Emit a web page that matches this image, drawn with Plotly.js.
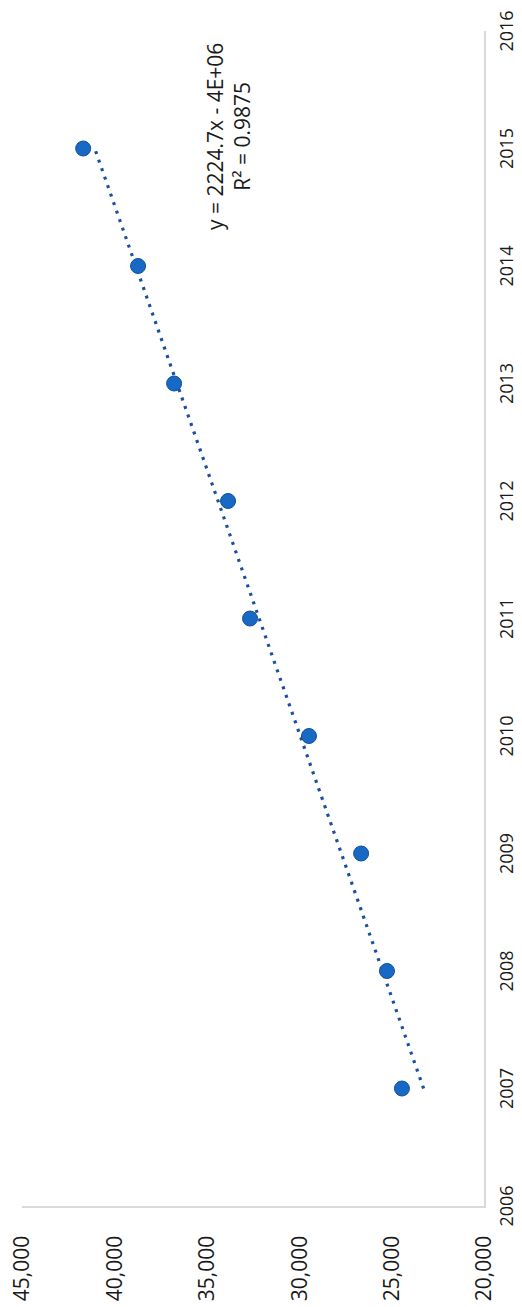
<!DOCTYPE html>
<html>
<head>
<meta charset="utf-8">
<script src="https://cdn.plot.ly/plotly-3.0.1.min.js"></script>
<style>
  html, body { margin: 0; padding: 0; background: #ffffff; }
  body { width: 522px; height: 1307px; overflow: hidden; position: relative; }
  /* The chart is laid out landscape and turned a quarter turn counter-clockwise */
  #chart {
    position: absolute; left: 0; top: 0;
    width: 1307px; height: 522px;
    transform-origin: 0 0;
    transform: translate(0, 1307px) rotate(-90deg);
  }
</style>
</head>
<body>
<div id="chart"></div>
<script>
// Yearly totals
const years = [2007, 2008, 2009, 2010, 2011, 2012, 2013, 2014, 2015];
const values = [24440, 25250, 26650, 29470, 32660, 33850, 36770, 38720, 41690];

// Linear trendline as reported on the chart
const trendSlope = 2224.7;
const trendLabel = ["y = 2224.7x - 4E+06", "R\u00b2 = 0.9875"];

// Axis ticks
const yearTicks = [2006, 2007, 2008, 2009, 2010, 2011, 2012, 2013, 2014, 2015, 2016];
const valueTicks = [20000, 25000, 30000, 35000, 40000, 45000];

// Trendline passes through the mean point with the reported slope
const meanX = years.reduce((a, b) => a + b, 0) / years.length;
const meanY = values.reduce((a, b) => a + b, 0) / values.length;
const trendAt = x => meanY + trendSlope * (x - meanX);
const trendX = [years[0], years[years.length - 1]];
const trendY = trendX.map(trendAt);

const FONT = '"Open Sans", "Noto Sans", sans-serif';
const TEXT = '#1a1a1a';

const traces = [
  {
    type: 'scatter', mode: 'lines',
    x: trendX, y: trendY,
    line: { color: '#1a4f9e', width: 3.2, dash: '3px,6px' },
    hoverinfo: 'skip', showlegend: false
  },
  {
    type: 'scatter', mode: 'markers',
    x: years, y: values,
    marker: { size: 15, color: '#1769c4', line: { color: '#0f4f9e', width: 1 } },
    showlegend: false
  }
];

const layout = {
  width: 1307, height: 522,
  margin: { l: 101, r: 31, t: 22, b: 38, pad: 0 },
  paper_bgcolor: '#ffffff', plot_bgcolor: '#ffffff',
  font: { family: FONT, color: TEXT },
  showlegend: false,
  xaxis: {
    range: [2006, 2016],
    tickmode: 'array', tickvals: yearTicks,
    ticktext: yearTicks.map(String),
    showgrid: false, zeroline: false,
    showline: true, linecolor: '#d9d9d9', linewidth: 1.5,
    ticks: '', ticklabelstandoff: 6,
    tickfont: { family: FONT, size: 18, color: TEXT },
    automargin: false
  },
  yaxis: {
    range: [20000, 45000],
    tickmode: 'array', tickvals: valueTicks,
    ticktext: valueTicks.map(v => v.toLocaleString('en-US')),
    showgrid: false, zeroline: false,
    showline: true, linecolor: '#d9d9d9', linewidth: 1.5,
    ticks: '', ticklabelstandoff: 24,
    tickfont: { family: FONT, size: 21, color: TEXT },
    automargin: false
  },
  annotations: [
    {
      xref: 'x', yref: 'y', x: 2015.1, y: 33800,
      text: trendLabel.join('<br>'),
      showarrow: false, align: 'center',
      font: { family: FONT, size: 21, color: TEXT }
    }
  ]
};

Plotly.newPlot('chart', traces, layout, { staticPlot: true, displayModeBar: false });
</script>
</body>
</html>
